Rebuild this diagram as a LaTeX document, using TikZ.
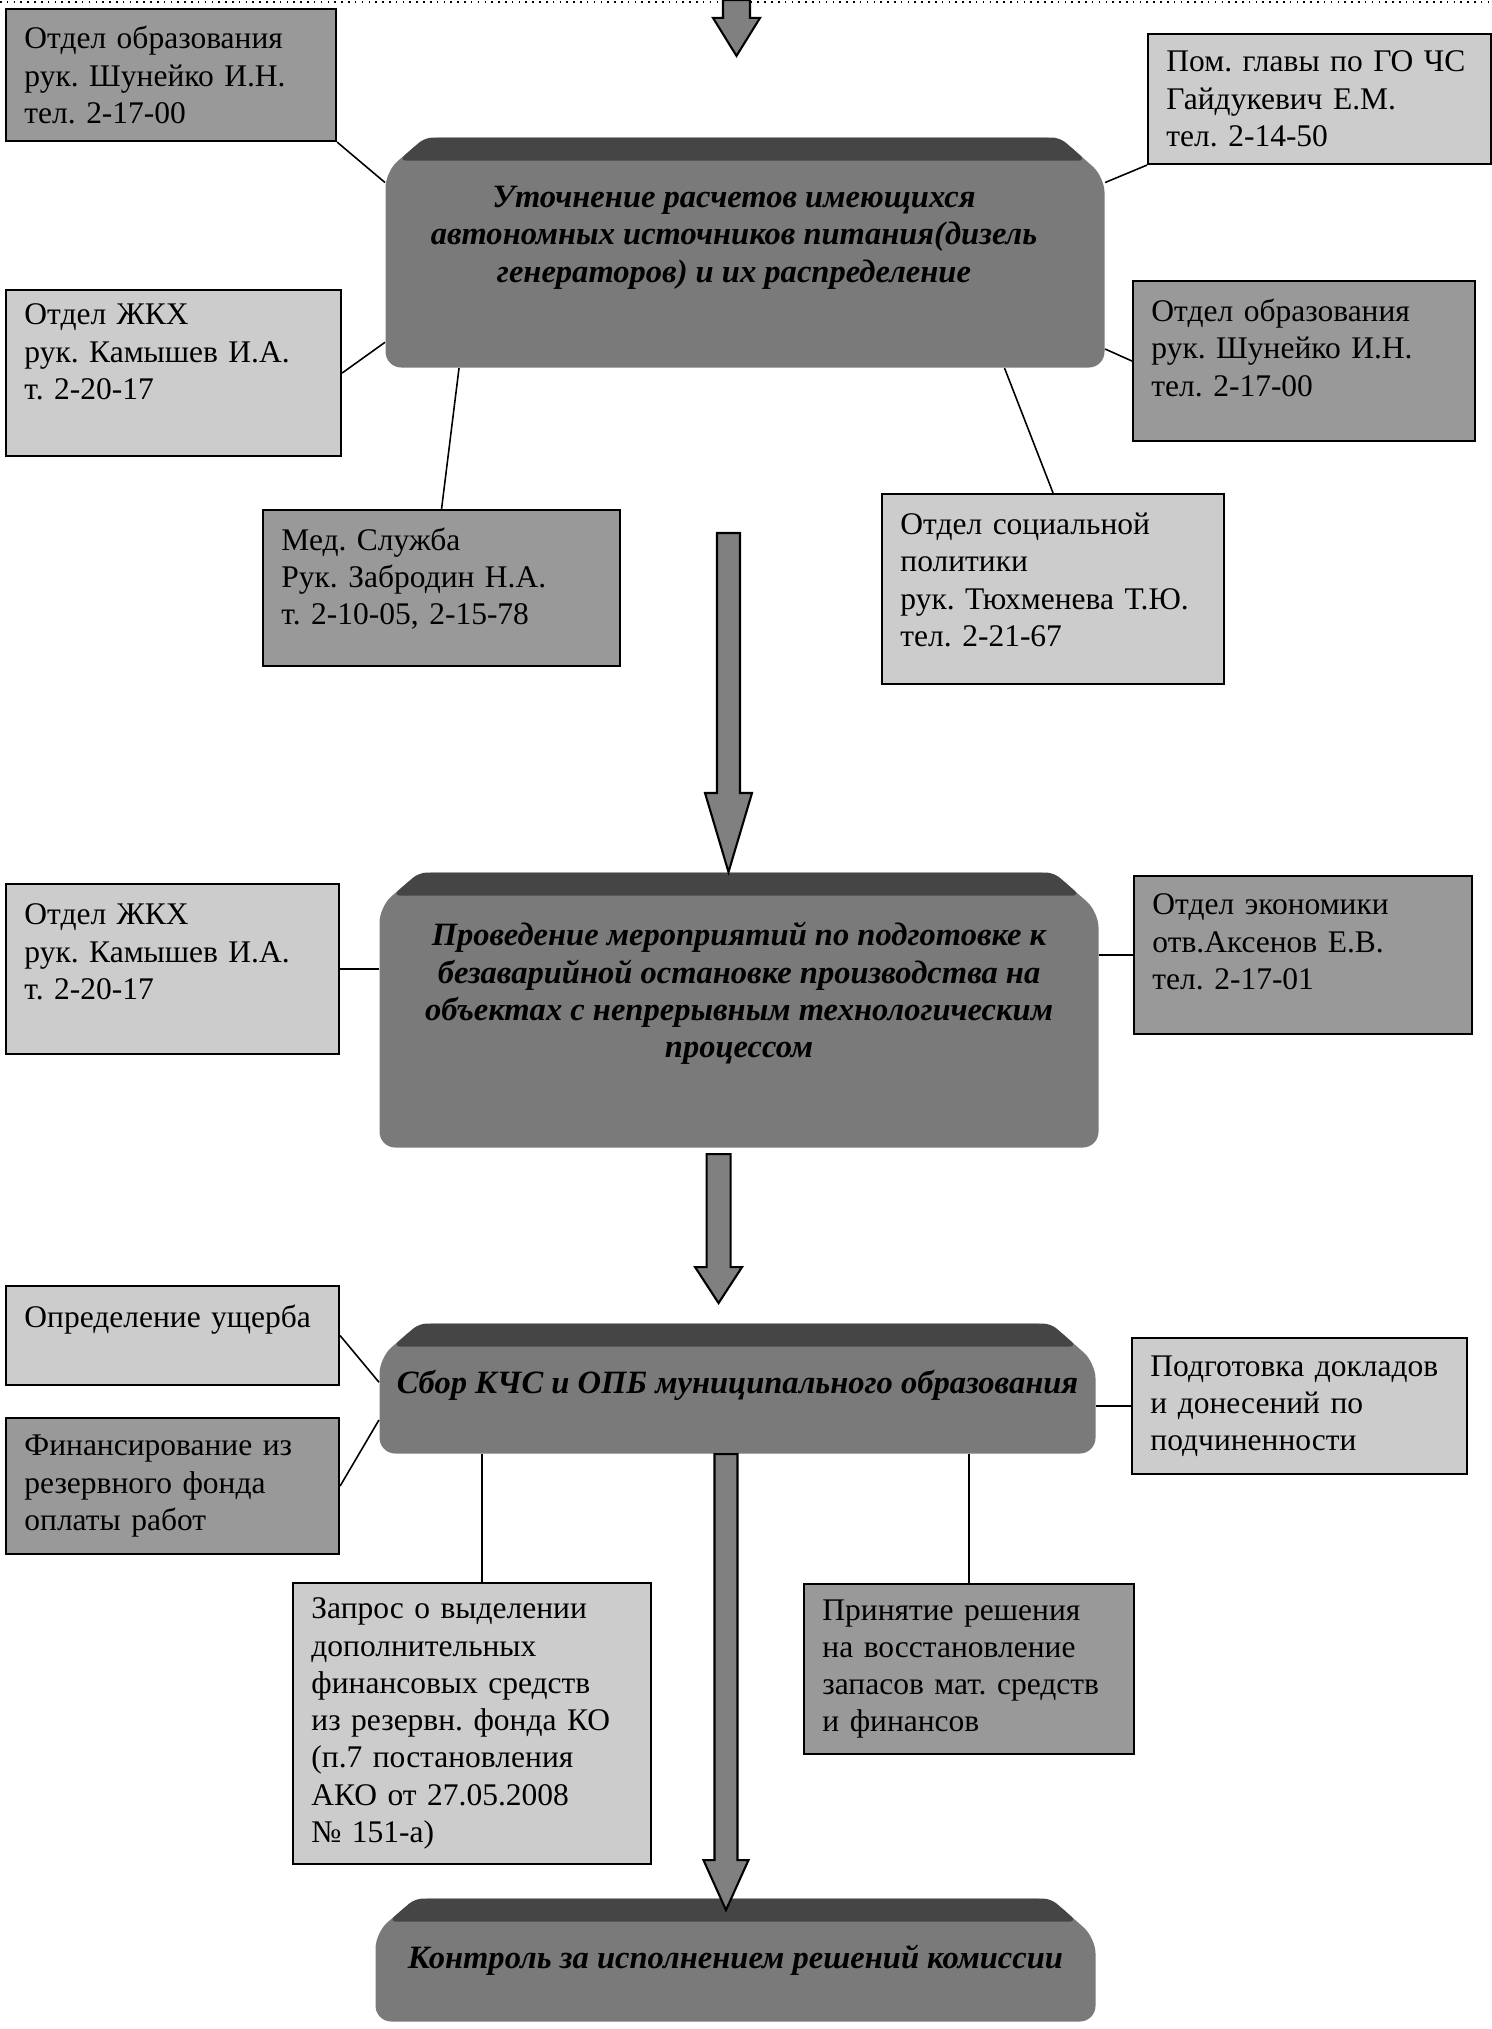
\documentclass[tikz,border=0pt]{standalone}
\usepackage{fontspec}
\setmainfont{Liberation Serif}
\usetikzlibrary{calc}
\frenchspacing

\definecolor{boxlight}{gray}{0.80}
\definecolor{boxdark}{gray}{0.60}
\definecolor{frontgray}{gray}{0.48}
\definecolor{bandgray}{gray}{0.27}
\definecolor{arrowgray}{gray}{0.50}

% one pixel of the scanned page
\newcommand{\pxu}{0.381pt}

% block arrow: start, tip, shaft half width, head half width, head length (px)
\newcommand{\blockarrow}[5]{%
  \filldraw[draw=black, line width=0.8pt, fill=arrowgray]
    let \p1=(#1), \p2=(#2) in
    (\x1-#3*\pxu,\y1) -- (\x1+#3*\pxu,\y1) -- (\x1+#3*\pxu,\y2+#5*\pxu)
    -- (\x1+#4*\pxu,\y2+#5*\pxu) -- (\x1,\y2) -- (\x1-#4*\pxu,\y2+#5*\pxu)
    -- (\x1-#3*\pxu,\y2+#5*\pxu) -- cycle;}

\tikzset{
  infobox/.style 2 args={draw=black, line width=0.8pt, anchor=north west,
    inner xsep=7pt, inner ysep=0pt, minimum width=#1*\pxu, minimum height=#2*\pxu,
    /utils/exec={\pgfmathsetlengthmacro\infotw{#1*0.381pt-14pt}},
    text width=\infotw, align=left, font=\fontsize{12}{14.2}\selectfont},
  lift/.style={execute at end node={\par\kern#1}},
  lightbox/.style={fill=boxlight},
  darkbox/.style={fill=boxdark},
  bevelbox/.style 2 args={anchor=north west, inner sep=0pt,
    minimum width=#1*\pxu, minimum height=#2*\pxu,
    path picture={
      \fill[frontgray, rounded corners=6pt]
        (path picture bounding box.south)
        -- (path picture bounding box.south west)
        -- ([yshift=-13pt]path picture bounding box.north west)
        -- ([xshift=15pt]path picture bounding box.north west)
        -- ([xshift=-17pt]path picture bounding box.north east)
        -- ([yshift=-15pt]path picture bounding box.north east)
        -- (path picture bounding box.south east) -- cycle;
      \fill[bandgray, rounded corners=3pt]
        ([xshift=5pt,yshift=-8.8pt]path picture bounding box.north west)
        -- ([xshift=15pt]path picture bounding box.north west)
        -- ([xshift=-17pt]path picture bounding box.north east)
        -- ([xshift=-7pt,yshift=-8.8pt]path picture bounding box.north east) -- cycle;
    }},
  maintext/.style={align=center, font=\fontsize{12.4}{14.2}\selectfont\bfseries\itshape},
  link/.style={line width=0.6pt}
}

\begin{document}
\begin{tikzpicture}[x=\pxu, y=-\pxu]
    \useasboundingbox (0,0) rectangle (1492,2029);
    \draw[dotted, line width=0.6pt] (0,2) -- (1492,2);

    % main steps
    \node[bevelbox={719}{230}] (utoch) at (385,137) {};
    \node[bevelbox={719}{275}] (prov) at (379,872) {};
    \node[bevelbox={716}{130}] (sbor) at (379,1323) {};
    \node[bevelbox={720}{123}] (kontrol) at (375,1898) {};

    \node[maintext] (utochtxt) at ([xshift=-4.2pt,yshift=5.7pt]utoch.center)
      {Уточнение расчетов имеющихся\\автономных источников питания(дизель\\генераторов) и их распределение};
    \node[maintext] (provtxt) at ([yshift=6.3pt]prov.center)
      {Проведение мероприятий по подготовке к\\безаварийной остановке производства на\\объектах с непрерывным технологическим\\процессом};
    \node[maintext] (sbortxt) at ([yshift=1.1pt]sbor.center)
      {Сбор КЧС и ОПБ муниципального образования};
    \node[maintext] (kontroltxt) at (kontrol.center)
      {Контроль за исполнением решений комиссии};

    % responsible services
    \node[infobox={330}{132}, darkbox] (obr1) at (5,8)
      {Отдел образования\\рук. Шунейко И.Н.\\тел. 2-17-00};
    \node[infobox={343}{130}, lightbox] (pom) at (1147,33)
      {Пом. главы по ГО ЧС\\Гайдукевич Е.М.\\тел. 2-14-50};
    \node[infobox={335}{166}, lightbox, lift=16pt] (zhkh1) at (5,289)
      {Отдел ЖКХ\\рук. Камышев И.А.\\т. 2-20-17};
    \node[infobox={342}{160}, darkbox, lift=10pt] (obr2) at (1132,280)
      {Отдел образования\\рук. Шунейко И.Н.\\тел. 2-17-00};
    \node[infobox={357}{156}, darkbox, lift=7pt] (med) at (262,509)
      {Мед. Служба\\Рук. Забродин Н.А.\\т. 2-10-05, 2-15-78};
    \node[infobox={342}{190}, lightbox, lift=7pt] (social) at (881,493)
      {Отдел социальной\\политики\\рук. Тюхменева Т.Ю.\\тел. 2-21-67};
    \node[infobox={333}{170}, lightbox, lift=13pt] (zhkh2) at (5,883)
      {Отдел ЖКХ\\рук. Камышев И.А.\\т. 2-20-17};
    \node[infobox={338}{158}, darkbox, lift=10pt] (econ) at (1133,875)
      {Отдел экономики\\отв.Аксенов Е.В.\\тел. 2-17-01};
    \node[infobox={333}{99}, lightbox, lift=12pt] (opred) at (5,1285)
      {Определение ущерба};
    \node[infobox={333}{136}, darkbox] (fin) at (5,1417)
      {Финансирование из\\резервного фонда\\оплаты работ};
    \node[infobox={335}{136}, lightbox] (podg) at (1131,1337)
      {Подготовка докладов\\и донесений по\\подчиненности};
    \node[infobox={358}{281}, lightbox] (zapros) at (292,1582)
      {Запрос о выделении\\дополнительных\\финансовых средств\\из резервн. фонда КО\\(п.7 постановления\\АКО от 27.05.2008\\№ 151-а)};
    \node[infobox={330}{170}, darkbox] (prin) at (803,1583)
      {Принятие решения\\на восстановление\\запасов мат. средств\\и финансов};

    % links
    \draw[link] (obr1.south east) -- (utoch.169);
    \draw[link] (pom.south west) -- (utoch.11);
    \draw[link] (zhkh1.east) -- (utoch.194);
    \draw[link] (obr2.west) -- (utoch.345);
    \draw[link] (utoch.202) -- (med.north);
    \draw[link] (utoch.336) -- (social.north);
    \draw[link] (zhkh2.east) -- (zhkh2.east -| prov.west);
    \draw[link] (econ.west) -- (econ.west -| prov.east);
    \draw[link] (opred.east) -- (sbor.179);
    \draw[link] (fin.east) -- (sbor.185);
    \draw[link] (podg.west) -- (podg.west -| sbor.east);
    \draw[link] ([xshift=3.8pt]zapros.north) -- ([xshift=3.8pt]zapros.north |- sbor.south);
    \draw[link] (prin.north) -- (prin.north |- sbor.south);

    % flow arrows
    \coordinate (a1top) at (736.5,0);
    \coordinate (a2top) at (728.5,533);
    \blockarrow{a1top}{[yshift=30.9pt]utoch.north}{13.5}{23.5}{38}
    \blockarrow{a2top}{prov.north}{11.5}{23.5}{79}
    \blockarrow{[xshift=-7.8pt,yshift=-2.3pt]prov.south}{[yshift=7.6pt]sbor.north}{12}{23.5}{36}
    \blockarrow{[xshift=-4.4pt]sbor.south}{[yshift=-4.6pt]kontrol.north}{11.5}{22.5}{50}
\end{tikzpicture}
\end{document}
